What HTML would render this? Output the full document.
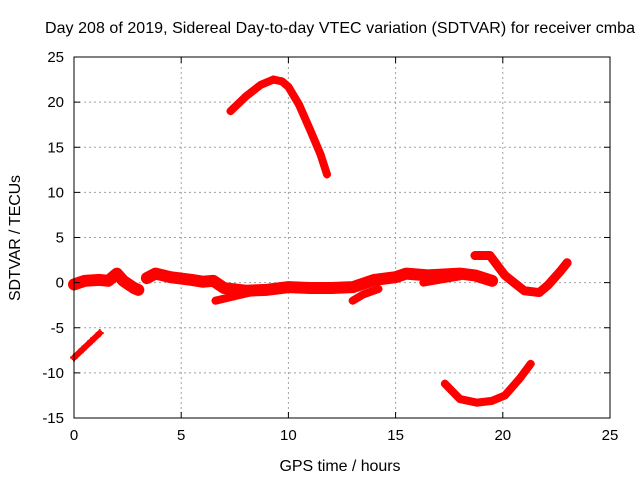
<!DOCTYPE html>
<html><head><meta charset="utf-8"><style>
body{margin:0;background:#fff}
svg text{font-family:"Liberation Sans",sans-serif;font-size:15px;fill:#000}
svg text.big{font-size:16px}
</style></head><body>
<svg id="c" width="640" height="480">
<text class="big" x="340" y="33" text-anchor="middle" textLength="590">Day 208 of 2019, Sidereal Day-to-day VTEC variation (SDTVAR) for receiver cmba</text>
<text class="big" x="340" y="471" text-anchor="middle" textLength="121">GPS time / hours</text>
<text class="big" x="20" y="238" text-anchor="middle" textLength="126" transform="rotate(-90 20 238)">SDTVAR / TECUs</text>
<g id="grid"></g><g id="marks"></g><g id="axes"></g>
</svg>
<script>
const xTicks=[0,5,10,15,20,25];
const yTicks=[-15,-10,-5,0,5,10,15,20,25];
const segA_t=[0,0.4,0.8,1.2];
const segA_v=[-8.3,-7.4,-6.5,-5.6];
const segB_t=[0,0.5,1.2,1.6,2.0,2.3,2.8,3.0];
const segB_v=[-0.2,0.2,0.3,0.2,1.0,0.2,-0.6,-0.8];
const segC_t=[3.4,3.8,4.5,5.5,6,6.5,7,8,9,10,11,12,13,13.5,14,15,15.5,16.5,18,18.7,19.5];
const segC_v=[0.5,1.0,0.6,0.3,0.1,0.2,-0.6,-0.9,-0.8,-0.5,-0.6,-0.6,-0.5,-0.1,0.3,0.6,1.0,0.8,1.0,0.8,0.2];
const segD_t=[6.6,7.5,8.2];
const segD_v=[-2.0,-1.5,-1.1];
const segE_t=[13,13.5,14.2];
const segE_v=[-2.0,-1.3,-0.7];
const segF_t=[16.3,17,18];
const segF_v=[0,0.3,0.7];
const segG_t=[18.7,19.4,20.1,21,21.7,22.1,22.7,23];
const segG_v=[3.0,3.0,0.8,-0.9,-1.1,-0.3,1.3,2.2];
const segH_t=[17.3,18,18.8,19.5,20.1,20.8,21.3];
const segH_v=[-11.2,-12.9,-13.3,-13.1,-12.5,-10.6,-9.0];
const segI_t=[7.3,8,8.7,9.3,9.7,10,10.5,11,11.5,11.8];
const segI_v=[19,20.6,21.9,22.5,22.3,21.7,19.7,17,14.2,12];
const L=74,R=610,T=57,B=418;
const X=t=>L+(t-0)/25*(R-L);
const Y=v=>B-(v+15)/40*(B-T);
const NS="http://www.w3.org/2000/svg";
function mk(tag,attrs,parent){const e=document.createElementNS(NS,tag);for(const k in attrs)e.setAttribute(k,attrs[k]);parent.appendChild(e);return e;}
const grid=document.getElementById('grid'),axes=document.getElementById('axes'),marks=document.getElementById('marks');
xTicks.forEach(t=>{
  if(t>0&&t<25){const g=mk('line',{x1:X(t),x2:X(t),y1:T,y2:B,stroke:'#a0a0a0','stroke-dasharray':'2,3'},grid);
  
  }
  const tx=mk('text',{x:X(t),y:B+22,'text-anchor':'middle'},axes);tx.textContent=t;
  
  
  mk('line',{x1:X(t),x2:X(t),y1:B,y2:B-6,stroke:'#000'},axes);
  mk('line',{x1:X(t),x2:X(t),y1:T,y2:T+6,stroke:'#000'},axes);
});
yTicks.forEach(v=>{
  if(v>-15&&v<25){const g=mk('line',{x1:L,x2:R,y1:Y(v),y2:Y(v),stroke:'#a0a0a0','stroke-dasharray':'2,3'},grid);
  
  }
  const tx=mk('text',{x:L-10,y:Y(v)+5,'text-anchor':'end'},axes);tx.textContent=v;
  
  
  mk('line',{x1:L,x2:L+6,y1:Y(v),y2:Y(v),stroke:'#000'},axes);
  mk('line',{x1:R,x2:R-6,y1:Y(v),y2:Y(v),stroke:'#000'},axes);
});
const box=mk('rect',{x:L,y:T,width:R-L,height:B-T,fill:'none',stroke:'#000'},axes);


const segs=[[segA_t,segA_v,6],[segB_t,segB_v,12],[segC_t,segC_v,12],[segD_t,segD_v,8],[segE_t,segE_v,8],[segF_t,segF_v,8],[segG_t,segG_v,9],[segH_t,segH_v,8],[segI_t,segI_v,8]];
segs.forEach(([ts,vs,w])=>{
  const pts=ts.map((t,i)=>X(t)+','+Y(vs[i])).join(' ');
  const p=mk('polyline',{points:pts,fill:'none',stroke:'#ff0000','stroke-width':w,'stroke-linejoin':'round','stroke-linecap':'round'},marks);
  
  
  ts.forEach((t,i)=>{
    const x=X(t),y=Y(vs[i]);
    const m=mk('path',{d:`M${x-4},${y}h8M${x},${y-4}v8`,stroke:'#ff0000','stroke-width':2},marks);
    
    
  });
});
</script>
</body></html>
